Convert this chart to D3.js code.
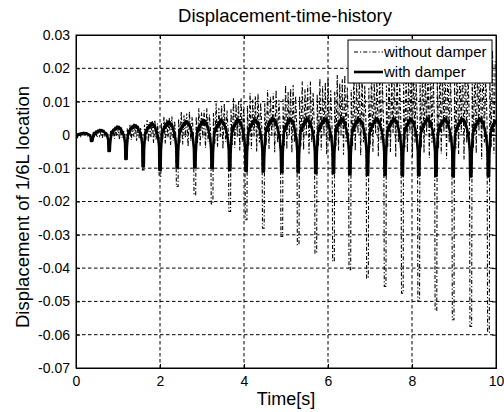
<!DOCTYPE html>
<html><head><meta charset="utf-8">
<script src="https://cdn.jsdelivr.net/npm/d3@7"></script>
<style>
html,body{margin:0;padding:0;background:#fff;}
text{font-family:"Liberation Sans",Arial,sans-serif;fill:#000;}
</style></head>
<body><svg id="c" width="504" height="412"></svg>
<script>
// ---- data ----
const xTicks = [0, 2, 4, 6, 8, 10];
const yTicks = [0.03, 0.02, 0.01, 0, -0.01, -0.02, -0.03, -0.04, -0.05, -0.06, -0.07];
const yTickLabels = ["0.03","0.02","0.01","0","-0.01","-0.02","-0.03","-0.04","-0.05","-0.06","-0.07"];
const seriesNames = ["without damper", "with damper"];
// times of the periodic downward spikes (s)
const spikeTimes = [0.37,0.79,1.19,1.60,2.00,2.41,2.83,3.24,3.66,4.05,4.46,4.90,5.29,5.71,6.13,6.52,6.94,7.36,7.77,8.16,8.57,8.98,9.40,9.82];
// without damper: spike minima
const noDamperMin = [-0.002,-0.005,-0.0075,-0.0105,-0.0125,-0.0155,-0.018,-0.0207,-0.023,-0.0255,-0.028,-0.0305,-0.033,-0.0355,-0.038,-0.0405,-0.043,-0.0455,-0.0475,-0.050,-0.0527,-0.0555,-0.0575,-0.0593];
// without damper: upper / lower level of the fast oscillation in each interval (first = before first spike)
const noDamperMax = [0.0006,0.0012,0.002,0.003,0.0045,0.0055,0.007,0.008,0.0095,0.011,0.0125,0.0135,0.015,0.016,0.017,0.018,0.0188,0.0196,0.0205,0.0213,0.0222,0.023,0.0238,0.0246,0.0254];
const noDamperLow = [-0.0005,-0.001,-0.0015,-0.002,-0.0028,-0.0035,-0.004,-0.0045,-0.005,-0.0055,-0.006,-0.0062,-0.0065,-0.0068,-0.007,-0.0072,-0.0075,-0.0078,-0.008,-0.0082,-0.0085,-0.0088,-0.009,-0.009,-0.009];
// typical shape of the fast oscillation inside one interval (0 = low level, 1 = upper level)
const noDamperShape = [0.8,0.15,1.0,0.1,0.9,0.3,0.95,0.05,1.0,0.2,0.85,0.35];
// with damper: spike minima and hump heights
const damperMin = [-0.0018,-0.0048,-0.0072,-0.0095,-0.0105,-0.0098,-0.0098,-0.01,-0.0105,-0.0108,-0.011,-0.0112,-0.0112,-0.0115,-0.0115,-0.0118,-0.012,-0.012,-0.0122,-0.0122,-0.0123,-0.0125,-0.0125,-0.0125];
const damperHump = [0.0006,0.0015,0.0025,0.003,0.0035,0.004,0.0042,0.0045,0.0045,0.0047,0.0048,0.005,0.005,0.005,0.005,0.005,0.005,0.005,0.005,0.005,0.005,0.005,0.005,0.005,0.005];
// typical hump shape inside one interval (relative to hump height), jagged as in the picture
const damperShape = [-1.2,-0.1,0.4,0.25,0.65,0.55,0.85,0.7,1.0,0.85,0.95,0.7,0.8,0.5,0.35,0.05,-0.3,-1.0];

// ---- build series tables ----
function buildSeries(spikeVals, shape, valueAt, halfWidth) {
  const pts = [{t:0, v:0}];
  const nInt = spikeTimes.length + 1;
  for (let c = 0; c < nInt; c++) {
    const t0 = c === 0 ? 0 : spikeTimes[c-1];
    const t1 = c < spikeTimes.length ? spikeTimes[c] : 10;
    if (c > 0) {
      pts.push({t:t0 - halfWidth, v:spikeVals[c-1]});
      pts.push({t:t0 + halfWidth, v:spikeVals[c-1]});
    }
    const full = c < spikeTimes.length ? (t1 - t0) : (spikeTimes[1]-spikeTimes[0]);
    const dt = full / (shape.length + 1);
    for (let j = 0; j < shape.length; j++) {
      const t = t0 + dt*(j+1);
      if (t >= t1 - dt*0.3) break;
      pts.push({t, v:valueAt(c, shape[j])});
    }
  }
  pts.push({t:10, v:valueAt(nInt-1, shape[4])});
  return pts;
}
const noDamper = buildSeries(noDamperMin, noDamperShape, (c,s)=> noDamperLow[c] + s*(noDamperMax[c]-noDamperLow[c]), 0.02);
const withDamper = buildSeries(damperMin, damperShape, (c,s)=> s*damperHump[c], 0.014);

// ---- draw ----
const svg = d3.select("#c");
const L = 76, R = 496, T = 35, B = 368;
const x = d3.scaleLinear().domain([0,10]).range([L,R]);
const y = d3.scaleLinear().domain([-0.07,0.03]).range([B,T]);

// grid
svg.append("g").selectAll("line").data(xTicks.slice(1,-1)).join("line")
  .attr("x1",d=>x(d)).attr("x2",d=>x(d)).attr("y1",T).attr("y2",B)
  .attr("stroke","#000").attr("stroke-width",1).attr("stroke-dasharray","3.5,2.5");
svg.append("g").selectAll("line").data(yTicks.slice(1,-1)).join("line")
  .attr("x1",L).attr("x2",R).attr("y1",d=>y(d)).attr("y2",d=>y(d))
  .attr("stroke","#000").attr("stroke-width",1).attr("stroke-dasharray","3.5,2.5");

// clip
svg.append("clipPath").attr("id","pc").append("rect").attr("x",L).attr("y",T).attr("width",R-L).attr("height",B-T);

const line = d3.line().x(d=>x(d.t)).y(d=>y(d.v));
const plot = svg.append("g").attr("clip-path","url(#pc)");
plot.append("path").datum(noDamper).attr("d",line).attr("fill","none")
  .attr("stroke","#000").attr("stroke-width",1.1).attr("stroke-dasharray","4,2,1.2,2");
plot.append("path").datum(withDamper).attr("d",line).attr("fill","none")
  .attr("stroke","#000").attr("stroke-width",2.6).attr("stroke-linejoin","round");

// axes box + inward ticks on all four sides
const axB = d3.axisBottom(x).tickValues(xTicks).tickSize(-4).tickPadding(8).tickFormat(d=>String(d));
svg.append("g").attr("transform",`translate(0,${B})`).call(axB);
const axT = d3.axisTop(x).tickValues(xTicks).tickSize(-4).tickFormat("");
svg.append("g").attr("transform",`translate(0,${T})`).call(axT);
const axL = d3.axisLeft(y).tickValues(yTicks).tickSize(-4).tickPadding(6).tickFormat((d,i)=>yTickLabels[i]);
svg.append("g").attr("transform",`translate(${L},0)`).call(axL);
const axR = d3.axisRight(y).tickValues(yTicks).tickSize(-4).tickFormat("");
svg.append("g").attr("transform",`translate(${R},0)`).call(axR);
svg.selectAll(".domain").attr("stroke","#000").attr("stroke-width",1);
svg.selectAll(".tick line").attr("stroke","#000");
svg.selectAll(".tick text").style("font-family","'Liberation Sans',Arial,sans-serif").style("font-size","14px").attr("fill","#000");
svg.append("rect").attr("x",L).attr("y",T).attr("width",R-L).attr("height",B-T).attr("fill","none").attr("stroke","#000");

// titles
svg.append("text").attr("x",285).attr("y",22).attr("text-anchor","middle").style("font-size","18.5px").text("Displacement-time-history");
svg.append("text").attr("x",286).attr("y",405).attr("text-anchor","middle").style("font-size","18px").text("Time[s]");
svg.append("text").attr("transform","translate(29,207) rotate(-90)").attr("text-anchor","middle").style("font-size","18.5px").text("Displacement of 1/6L location");

// legend
const lg = svg.append("g");
lg.append("rect").attr("x",348).attr("y",40).attr("width",144).attr("height",43).attr("fill","#fff").attr("stroke","#000");
const lgY = [52, 72];
lg.selectAll("line.s").data(seriesNames).join("line").attr("class","s")
  .attr("x1",354).attr("x2",383).attr("y1",(d,i)=>lgY[i]).attr("y2",(d,i)=>lgY[i])
  .attr("stroke","#000").attr("stroke-width",(d,i)=>i?2.6:1.1).attr("stroke-dasharray",(d,i)=>i?null:"4,2,1.2,2");
lg.selectAll("text").data(seriesNames).join("text")
  .attr("x",384).attr("y",(d,i)=>lgY[i]+5).style("font-size","15px").text(d=>d);
</script></body></html>
